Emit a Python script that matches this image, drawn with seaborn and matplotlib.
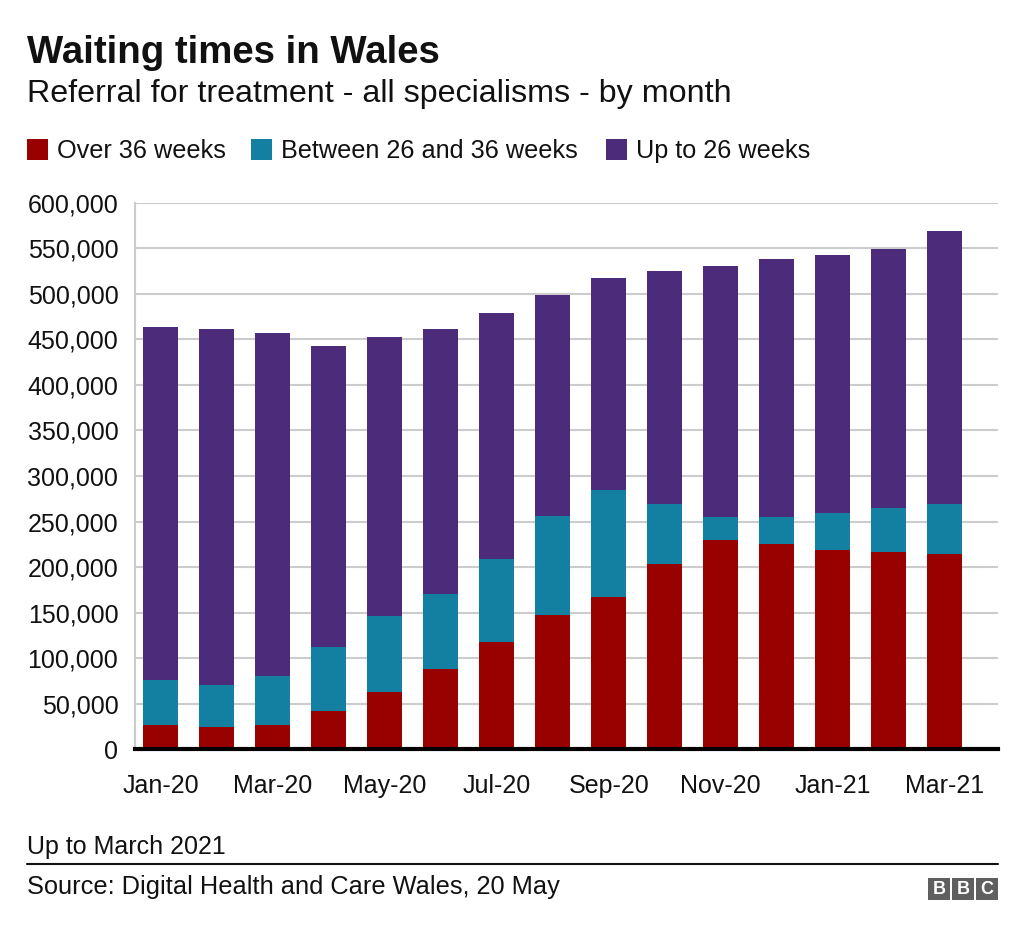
import matplotlib
matplotlib.use("Agg")
import matplotlib.pyplot as plt
from matplotlib.patches import Rectangle
from matplotlib.lines import Line2D
import seaborn as sns
import pandas as pd

months = ["Jan-20", "Feb-20", "Mar-20", "Apr-20", "May-20", "Jun-20", "Jul-20", "Aug-20",
          "Sep-20", "Oct-20", "Nov-20", "Dec-20", "Jan-21", "Feb-21", "Mar-21"]
over_36 = [26300, 24500, 26300, 42400, 63200, 88100, 118100, 147400,
           166800, 203700, 229700, 225000, 219100, 216200, 214000]
between_26_36 = [49400, 45800, 54200, 69900, 82800, 82400, 90800, 108700,
                 117500, 65200, 25000, 29700, 40600, 49000, 54900]
up_to_26 = [387500, 391100, 376100, 330100, 306900, 290900, 270400, 242300,
            233400, 255800, 275500, 283800, 282900, 284000, 299700]
series_names = ["Over 36 weeks", "Between 26 and 36 weeks", "Up to 26 weeks"]
colors = ["#990000", "#1380A1", "#4B2B7A"]
yticks = [0, 50000, 100000, 150000, 200000, 250000, 300000, 350000, 400000, 450000, 500000, 550000, 600000]

df = pd.DataFrame({"month": months, "over": over_36, "between": between_26_36, "upto": up_to_26})
df["c1"] = df["over"]
df["c2"] = df["over"] + df["between"]
df["c3"] = df["c2"] + df["upto"]

sns.set_theme(style="white")
plt.rcParams["font.family"] = ["Liberation Sans", "DejaVu Sans"]

TXT = "#111111"
fig = plt.figure(figsize=(10.24, 9.34), dpi=100)
W, H = 1024, 934
ax = fig.add_axes([135 / W, 1 - 749.3 / H, (998 - 135) / W, (749.3 - 202.7) / H])

for col, c in zip(["c3", "c2", "c1"], [colors[2], colors[1], colors[0]]):
    sns.barplot(data=df, x="month", y=col, color=c, width=0.62, saturation=1,
                ax=ax, linewidth=0, zorder=3, errorbar=None)

ax.set_ylim(0, 600000)
ax.set_xlim(-0.46, 14.95)
ax.set_yticks(yticks)
ax.set_yticklabels([f"{v:,}" for v in yticks])
ax.set_xticks(range(0, 15, 2))
ax.set_xticklabels(months[::2])
ax.set_xlabel("")
ax.set_ylabel("")
ax.grid(axis="y", color="#cccccc", linewidth=1.5, zorder=0)
ax.grid(axis="x", visible=False)
ax.tick_params(axis="y", length=0, pad=12, labelsize=18, colors=TXT)
ax.tick_params(axis="x", length=0, pad=18, labelsize=18, colors=TXT)
for s in ["top", "right"]:
    ax.spines[s].set_visible(False)
ax.spines["left"].set_color("#cccccc")
ax.spines["left"].set_linewidth(1.5)
ax.spines["bottom"].set_color("#000000")
ax.spines["bottom"].set_linewidth(3)
ax.spines["bottom"].set_zorder(5)

def fy(py):
    return 1 - py / H

def fx(px):
    return px / W

fig.text(fx(27), fy(63), "Waiting times in Wales", fontsize=27.6, fontweight="bold",
         color=TXT, va="baseline", ha="left")
fig.text(fx(27), fy(102), "Referral for treatment - all specialisms - by month", fontsize=23.2,
         color=TXT, va="baseline", ha="left")

legend_x = [(27, 57), (251, 281), (606, 636)]
for (sx, tx), name, c in zip(legend_x, series_names, colors):
    fig.patches.append(Rectangle((fx(sx), fy(160)), 21 / W, 21 / H, transform=fig.transFigure,
                                 facecolor=c, edgecolor="none"))
    fig.text(fx(tx), fy(158), name, fontsize=18.2, color=TXT, va="baseline", ha="left")

fig.text(fx(27), fy(854), "Up to March 2021", fontsize=18, color=TXT, va="baseline", ha="left")
fig.add_artist(Line2D([fx(27), fx(998)], [fy(864), fy(864)], transform=fig.transFigure,
                      color=TXT, linewidth=1.5))
fig.text(fx(27), fy(894), "Source: Digital Health and Care Wales, 20 May", fontsize=18.3,
         color=TXT, va="baseline", ha="left")

for i, letter in enumerate("BBC"):
    x0 = 928 + i * 24
    fig.patches.append(Rectangle((fx(x0), fy(900)), 22 / W, 22 / H, transform=fig.transFigure,
                                 facecolor="#5f5f5f", edgecolor="none"))
    fig.text(fx(x0 + 11), fy(889), letter, fontsize=13, fontweight="bold", color="white",
             ha="center", va="center")

fig.savefig("out.png", dpi=100, facecolor="white")
